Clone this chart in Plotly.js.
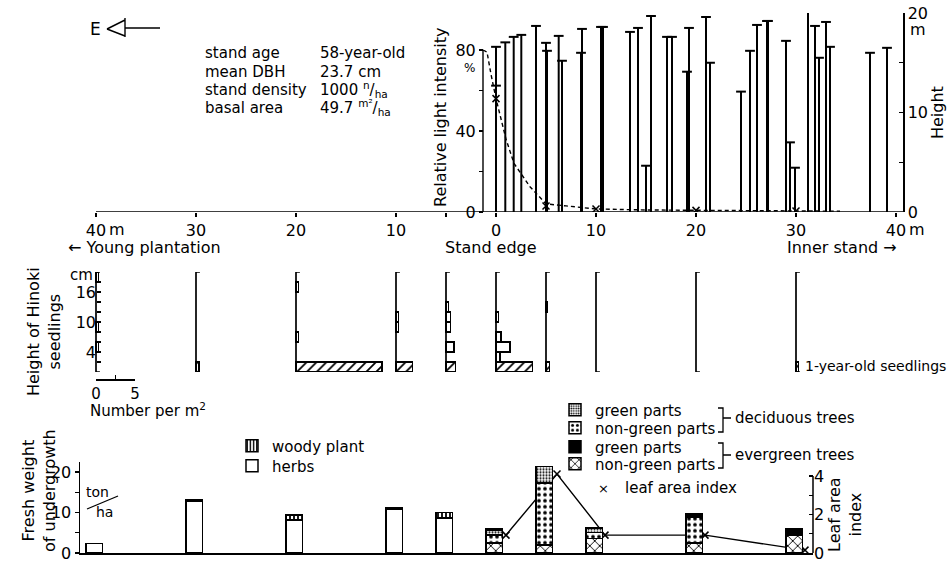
<!DOCTYPE html>
<html><head><meta charset="utf-8">
<script src="https://cdn.plot.ly/plotly-3.0.1.min.js"></script>
<style>html,body{margin:0;padding:0;background:#fff}#chart{width:948px;height:564px}</style>
</head><body><div id="chart"></div>
<script>
// ================= DATA =================
// Top panel: tree positions (m from stand edge) and heights (m)
const treeX = [0.0, 0.0, 0.93, 1.77, 2.53, 4.0, 5.0, 5.1, 6.27, 6.6, 8.5, 8.6, 10.5, 10.7, 13.4, 14.2, 15.0, 15.5, 17.1, 17.6, 19.1, 19.3, 21.0, 21.4, 24.5, 25.4, 26.1, 27.1, 27.2, 29.0, 29.4, 29.9, 31.2, 31.9, 32.3, 33.0, 33.4, 37.4, 39.1];
const treeH = [16.6, 12.7, 17.05, 17.6, 17.8, 18.7, 17.0, 16.2, 17.7, 15.2, 16.0, 18.4, 18.6, 18.6, 18.1, 18.5, 4.65, 19.7, 17.6, 17.6, 14.1, 18.5, 19.6, 15.0, 12.1, 16.2, 18.8, 19.2, 19.2, 17.2, 7.0, 4.45, 20.3, 18.7, 15.5, 19.1, 16.6, 16.0, 16.5];
// Relative light intensity (%)
const lightX = [-1.3, -0.9, -0.5, 0, 1, 1.8, 3.4, 5, 7, 10, 15, 20, 25, 30, 34.4];
const lightY = [80, 79, 68, 56, 36, 24, 12.5, 4, 3, 1.5, 1.0, 0.8, 0.6, 0.5, 0.4];
const lightMarkX = [0, 5, 10, 20, 30];
const lightMarkY = [56, 3, 1.5, 0.8, 0.5];

// Middle panel: Hinoki seedlings (number per m2) by height class
const sites = [-40, -30, -20, -10, -5, 0, 5, 10, 20, 30];
const oneYearClass = 1;            // 0-2 cm class centre
const oneYearSeedlings = [0, 0.4, 11.0, 2.1, 1.2, 4.7, 0.45, 0, 0, 0.3];
const olderClasses = [3, 5, 7, 9, 11, 13, 15, 17, 19]; // 2-cm class centres
const olderSeedlings = [
  [0, 0.3, 0, 0.3, 0, 0, 0, 0, 0.3],     // -40
  [0, 0, 0, 0, 0, 0, 0, 0, 0],           // -30
  [0, 0, 0.3, 0, 0, 0, 0, 0.3, 0],       // -20
  [0, 0, 0, 0.3, 0.3, 0, 0, 0, 0],       // -10
  [0, 1.0, 0, 0.6, 0.6, 0.3, 0, 0, 0],   // -5
  [0.5, 1.8, 0.65, 0, 0.35, 0, 0, 0, 0], // 0
  [0, 0, 0, 0, 0, 0.2, 0, 0, 0],         // 5
  [0, 0, 0, 0, 0, 0, 0, 0, 0],           // 10
  [0, 0, 0, 0, 0, 0, 0, 0, 0],           // 20
  [0, 0, 0, 0, 0, 0, 0, 0, 0]            // 30
];

// Bottom panel: fresh weight of undergrowth (ton/ha)
const herbs       = [2.4, 12.7, 8.2, 10.7, 8.6, null, null, null, null, null];
const woody       = [null, 0.4, 1.2, 0.4, 1.4, null, null, null, null, null];
const evNonGreen  = [null, null, null, null, null, 2.5, 2.0, 3.6, 2.5, 4.4];
const decNonGreen = [null, null, null, null, null, 2.0, 15.3, 1.5, 6.4, null];
const decGreen    = [null, null, null, null, null, 1.2, 4.0, 0.9, null, null];
const evGreen     = [null, null, null, null, null, 0.2, null, 0.25, 0.9, 1.5];
// Leaf area index
const laiX = [1.0, 6.1, 10.9, 20.9, 30.9];
const lai  = [0.93, 4.1, 0.93, 0.93, 0.15];

// Tick labels
const topTickVals = [-40, -30, -20, -10, -5, 0, 10, 20, 30, 40];
const topTickText = ['40', '30', '20', '10', '', '0', '10', '20', '30', '40'];

// ================= LAYOUT HELPERS =================
const W = 948, H = 564, ML = 80, MR = 45, PW = W - ML - MR;
const fx = X => (X - ML) / PW;
const fy = Y => 1 - Y / H;
const mPerNum = 0.78;      // drawing scale of the seedling histograms (m per 1 seedling/m2)
const numOrigin = -40;     // position where the "Number per m2" scale starts
const topRange = [-41.6, 40.7];
const x2Range = topRange.map(v => (v - numOrigin) / mPerNum);
const siteBase = sites.map(s => (s - numOrigin) / mPerNum);

// ================= TRACES =================
const traces = [];
// trees
traces.push({
  type: 'scatter', mode: 'markers', x: treeX, y: treeH, xaxis: 'x', yaxis: 'y',
  marker: {symbol: 'line-ew-open', size: 7, color: 'black', line: {width: 2, color: 'black'}},
  error_y: {type: 'data', symmetric: false, array: treeH.map(() => 0), arrayminus: treeH, width: 0, thickness: 2, color: 'black'},
  showlegend: false, hoverinfo: 'skip'
});
// light intensity
traces.push({
  type: 'scatter', mode: 'lines', x: lightX, y: lightY, xaxis: 'x', yaxis: 'y3',
  line: {color: 'black', width: 1.4, dash: '4px,3px'}, showlegend: false, hoverinfo: 'skip'
});
traces.push({
  type: 'scatter', mode: 'markers', x: lightMarkX, y: lightMarkY, xaxis: 'x', yaxis: 'y3',
  marker: {symbol: 'x-thin-open', size: 7, color: 'black', line: {width: 1.5, color: 'black'}},
  showlegend: false, hoverinfo: 'skip'
});

// seedlings: 1-year-old
{
  const xs = [], ys = [], bs = [];
  sites.forEach((s, i) => { if (oneYearSeedlings[i] > 0) { xs.push(oneYearSeedlings[i]); ys.push(oneYearClass); bs.push(siteBase[i]); } });
  traces.push({
    type: 'bar', orientation: 'h', x: xs, y: ys, base: bs, width: 2, xaxis: 'x2', yaxis: 'y2',
    marker: {color: 'white', line: {color: 'black', width: 1.5}, pattern: {shape: '/', fgcolor: 'black', bgcolor: 'white', size: 7, solidity: 0.25}},
    showlegend: false, hoverinfo: 'skip'
  });
}
// seedlings: older
{
  const xs = [], ys = [], bs = [];
  sites.forEach((s, i) => olderSeedlings[i].forEach((v, j) => { if (v > 0) { xs.push(v); ys.push(olderClasses[j]); bs.push(siteBase[i]); } }));
  traces.push({
    type: 'bar', orientation: 'h', x: xs, y: ys, base: bs, width: 2, xaxis: 'x2', yaxis: 'y2',
    marker: {color: 'white', line: {color: 'black', width: 1.5}},
    showlegend: false, hoverinfo: 'skip'
  });
}
// histogram axes per site
{
  const cap = 0.5, xs = [], ys = [];
  siteBase.forEach(b => { xs.push(b + cap, b, b, b + cap, null); ys.push(20, 20, 0, 0, null); });
  traces.push({type: 'scatter', mode: 'lines', x: xs, y: ys, xaxis: 'x2', yaxis: 'y2',
    line: {color: 'black', width: 1.7}, showlegend: false, hoverinfo: 'skip'});
}
// dummy to draw the "Number per m2" scale axis
traces.push({type: 'scatter', mode: 'markers', x: [0], y: [null], xaxis: 'x4', yaxis: 'y2', showlegend: false, hoverinfo: 'skip'});

// leaf area index (base subplot, beneath bars)
traces.push({
  type: 'scatter', mode: 'lines+markers', x: laiX, y: lai, xaxis: 'x3', yaxis: 'y4',
  line: {color: 'black', width: 1.4},
  marker: {symbol: 'x-thin-open', size: 7, color: 'black', line: {width: 1.5, color: 'black'}},
  showlegend: false, hoverinfo: 'skip'
});

// bars
const barBase = {type: 'bar', x: sites, xaxis: 'x3', yaxis: 'y5', width: 1.65, offset: -1.0, hoverinfo: 'skip'};
const outline = {color: 'black', width: 1.5};
traces.push(Object.assign({}, barBase, {name: 'herbs', y: herbs, legend: 'legend2',
  marker: {color: 'white', line: outline}}));
traces.push(Object.assign({}, barBase, {name: 'woody plant', y: woody, legend: 'legend',
  marker: {color: 'white', line: outline, pattern: {shape: '|', fgcolor: 'black', bgcolor: 'white', size: 4, solidity: 0.45}}}));
traces.push(Object.assign({}, barBase, {name: 'non-green parts', y: evNonGreen, legend: 'legend6',
  marker: {color: 'white', line: outline, pattern: {shape: 'x', fgcolor: 'black', bgcolor: 'white', size: 7, solidity: 0.25}}}));
traces.push(Object.assign({}, barBase, {name: 'non-green parts', y: decNonGreen, legend: 'legend4',
  marker: {color: 'white', line: outline, pattern: {shape: '.', fgcolor: 'black', bgcolor: 'white', size: 6, solidity: 0.3}}}));
traces.push(Object.assign({}, barBase, {name: 'green parts', y: decGreen, legend: 'legend3',
  marker: {color: 'white', line: outline, pattern: {shape: '.', fgcolor: 'black', bgcolor: 'white', size: 3, solidity: 0.4}}}));
traces.push(Object.assign({}, barBase, {name: 'green parts', y: evGreen, legend: 'legend5',
  marker: {color: 'black', line: outline}}));

// ================= ANNOTATIONS =================
const ann = [];
function A(X, Y, text, opt) {
  ann.push(Object.assign({xref: 'paper', yref: 'paper', x: fx(X), y: fy(Y), text: text, showarrow: false,
    xanchor: 'center', yanchor: 'middle', font: {size: 16}}, opt || {}));
}
A(95, 29, 'E', {font: {size: 17}});
const infoL = ['stand age', 'mean DBH', 'stand density', 'basal area'];
const infoR = ['58-year-old', '23.7 cm', '1000 <sup>n</sup>/<sub>ha</sub>', '49.7 <sup>m²</sup>/<sub>ha</sub>'];
const infoY = [53, 72, 90, 108];
infoL.forEach((t, i) => A(203, infoY[i], t, {xanchor: 'left', font: {size: 15}}));
infoR.forEach((t, i) => A(318, infoY[i], t, {xanchor: 'left', font: {size: 15}}));
A(469, 68, '%', {font: {size: 12}});
A(441, 117, 'Relative light intensity', {textangle: -90});
A(107, 229, 'm', {xanchor: 'left'});
A(907, 229, 'm', {xanchor: 'left'});
A(66, 248, '← Young plantation', {xanchor: 'left'});
A(491, 248, 'Stand edge');
A(842, 248, 'Inner stand →');
A(918, 29, 'm');
A(937, 113, 'Height', {textangle: -90});
A(81, 275, 'cm', {font: {size: 15}});
A(44, 332, 'Height of Hinoki<br>seedlings', {textangle: -90});
A(803, 366, '1-year-old seedlings', {xanchor: 'left', font: {size: 14}});
A(88, 410, 'Number per m<sup>2</sup>', {xanchor: 'left', font: {size: 15}});
A(39, 491, 'Fresh weight<br>of undergrowth', {textangle: -90});
A(97, 492, 'ton', {font: {size: 14}});
A(104, 512, 'ha', {font: {size: 14}});
A(733, 418, 'deciduous trees', {xanchor: 'left', font: {size: 15}});
A(733, 455, 'evergreen trees', {xanchor: 'left', font: {size: 15}});
A(603, 488, '×', {font: {size: 13}});
A(623, 488, 'leaf area index', {xanchor: 'left', font: {size: 15}});
A(845, 515, 'Leaf area<br>index', {textangle: -90});

// ================= SHAPES =================
const P = (X, Y) => fx(X).toFixed(5) + ',' + fy(Y).toFixed(5);
const shapes = [
  {type: 'line', xref: 'x', yref: 'y', x0: -40, x1: 40.7, y0: 0, y1: 0, line: {color: 'black', width: 1.6}},
  {type: 'line', xref: 'x', yref: 'y3', x0: -1.3, x1: -1.3, y0: 0, y1: 80, line: {color: 'black', width: 1.4}},
  {type: 'line', xref: 'x3 domain', yref: 'y4', x0: 1, x1: 1, y0: 0, y1: 4, line: {color: 'black', width: 1.5}},
  {type: 'path', xref: 'paper', yref: 'paper', line: {color: 'black', width: 1.4},
    path: 'M' + P(107, 29) + 'L' + P(125, 20) + 'M' + P(107, 29) + 'L' + P(125, 36) + 'M' + P(125, 18) + 'L' + P(125, 37) + 'M' + P(125, 28) + 'L' + P(160, 28)},
  {type: 'line', xref: 'paper', yref: 'paper', x0: fx(87), y0: fy(509), x1: fx(118), y1: fy(496), line: {color: 'black', width: 1.3}},
  {type: 'path', xref: 'paper', yref: 'paper', line: {color: 'black', width: 1.3},
    path: 'M' + P(718, 408) + 'L' + P(723, 408) + 'L' + P(723, 432) + 'L' + P(718, 432) + 'M' + P(723, 418) + 'L' + P(731, 418)},
  {type: 'path', xref: 'paper', yref: 'paper', line: {color: 'black', width: 1.3},
    path: 'M' + P(718, 443) + 'L' + P(723, 443) + 'L' + P(723, 468) + 'L' + P(718, 468) + 'M' + P(723, 455) + 'L' + P(731, 455)}
];

// ================= AXES & LEGENDS =================
const axBase = {showgrid: false, zeroline: false, color: 'black', linecolor: 'black', tickcolor: 'black', tickwidth: 1.4, linewidth: 1.5, tickfont: {size: 16}};
function leg(X, Y) {
  return {x: fx(X), y: fy(Y), xanchor: 'left', yanchor: 'middle', bgcolor: 'rgba(0,0,0,0)', borderwidth: 0, font: {size: 15}, itemwidth: 30};
}
const layout = {
  width: W, height: H, margin: {l: ML, r: MR, t: 0, b: 0, pad: 0},
  paper_bgcolor: 'white', plot_bgcolor: 'rgba(0,0,0,0)',
  font: {family: 'DejaVu Sans', size: 16, color: 'black'},
  showlegend: true, barmode: 'stack',
  xaxis: Object.assign({}, axBase, {domain: [0, 1], range: topRange, anchor: 'y', showline: false, ticks: 'outside', ticklen: 4,
    tickvals: topTickVals, ticktext: topTickText}),
  yaxis: Object.assign({}, axBase, {domain: [fy(212), fy(13)], range: [0, 20], anchor: 'x', side: 'right', showline: true,
    ticks: 'inside', ticklen: 4, tickvals: [0, 5, 10, 15, 20], ticktext: ['0', '', '10', '', '20']}),
  yaxis3: Object.assign({}, axBase, {overlaying: 'y', anchor: 'free', position: fx(483), side: 'left', range: [0, 98.27], showline: false,
    ticks: 'outside', ticklen: 4, tickvals: [0, 20, 40, 60, 80], ticktext: ['0', '', '40', '', '80']}),
  xaxis2: {domain: [0, 1], range: x2Range, anchor: 'y2', visible: false},
  yaxis2: Object.assign({}, axBase, {domain: [fy(372), fy(272)], range: [0, 20], anchor: 'free', position: fx(96), showline: false,
    ticks: 'inside', ticklen: 4, tickvals: [2, 4, 6, 8, 10, 12, 14, 16, 18], ticktext: ['', '4', '', '', '10', '', '', '16', '']}),
  xaxis4: Object.assign({}, axBase, {domain: [fx(96), fx(135)], range: [0, 5], anchor: 'free', position: fy(379), showline: true,
    ticks: 'inside', ticklen: 4, tickvals: [0, 2.5, 5], ticktext: ['0', '', '5'], tickfont: {size: 15}}),
  xaxis3: Object.assign({}, axBase, {domain: [0, fx(813)], range: [-41.6, 31.7], anchor: 'y4', showline: true, ticks: '', showticklabels: false}),
  yaxis4: Object.assign({}, axBase, {domain: [fy(553), fy(461.7)], range: [0, 4.743], anchor: 'x3', side: 'right', showline: false,
    ticks: 'inside', ticklen: 4, tickvals: [0, 1, 2, 3, 4], ticktext: ['0', '', '2', '', '4']}),
  yaxis5: Object.assign({}, axBase, {overlaying: 'y4', anchor: 'x3', side: 'left', range: [0, 22.54], showline: true,
    ticks: 'outside', ticklen: 4, tickvals: [0, 5, 10, 15, 20], ticktext: ['0', '', '10', '', '20']}),
  legend: leg(232, 446),
  legend2: leg(232, 466),
  legend3: leg(555, 410),
  legend4: leg(555, 428),
  legend5: leg(555, 447),
  legend6: leg(555, 464),
  annotations: ann,
  shapes: shapes
};

Plotly.newPlot('chart', traces, layout, {staticPlot: true, displayModeBar: false});
</script>
</body></html>
